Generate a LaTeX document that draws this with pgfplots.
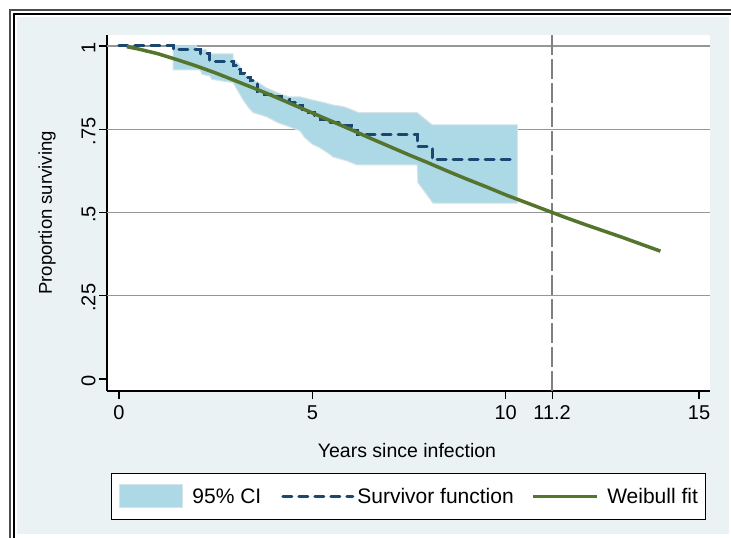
\documentclass[border=0pt]{standalone}
\usepackage{pgfplots}
\pgfplotsset{compat=1.18}
\usepackage{fontspec}
\setmainfont{Liberation Sans}
\definecolor{bgc}{RGB}{234,242,243}
\definecolor{ciblue}{RGB}{173,216,230}
\definecolor{ciedge}{RGB}{214,228,233}
\definecolor{navy}{RGB}{26,71,111}
\definecolor{fgreen}{RGB}{85,117,47}
\definecolor{gridc}{RGB}{150,150,150}
\definecolor{xlinec}{RGB}{128,128,128}
\newcommand\fs[1]{\fontsize{#1}{#1}\selectfont}
\begin{document}
\begin{tikzpicture}
\useasboundingbox (0,0) rectangle (731pt,-538pt);
\fill[white] (0,0) rectangle (731pt,-538pt);
\fill[bgc] (17pt,-17pt) rectangle (729pt,-534pt);
\draw[line width=2pt, gray!60!black] (10pt,-538pt) -- (10pt,-10pt) -- (731pt,-10pt);
\draw[line width=2pt, black] (14pt,-538pt) -- (14pt,-14pt) -- (731pt,-14pt);
\begin{axis}[
  at={(107pt,-391pt)}, anchor=south west,
  scale only axis, width=603pt, height=356pt,
  xmin=-0.31, xmax=15.283, ymin=-0.036, ymax=1.033,
  axis lines*=left,
  axis line style={-, line width=1.3pt, black},
  axis background/.style={fill=white},
  xtick={0,5,10,11.2,15}, xticklabels={0,5,10,11.2,15},
  ytick={0,0.25,0.5,0.75,1}, yticklabels={0,.25,.5,.75,1},
  tick align=outside, major tick length=8pt,
  tick style={line width=1.2pt, black},
  extra y ticks={0.25,0.5,0.75,1}, extra y tick labels={},
  extra y tick style={grid=major, major tick length=0pt},
  grid style={line width=1.3pt, gridc},
  /pgf/number format/assume math mode=true,
  tick label style={font=\fs{20}},
  yticklabel style={rotate=90, anchor=south, xshift=-2pt},
  xticklabel style={yshift=-3pt},
  xlabel={Years since infection},
  xlabel style={at={(axis description cs:0.4975,-0.1685)}, anchor=center, font=\fs{19.5}},
  ylabel={Proportion surviving},
  ylabel style={at={(axis description cs:-0.0995,0.5)}, anchor=center, font=\fs{18.5}},
  legend columns=3,
  legend style={at={(axis description cs:0.0066,-0.2303)}, anchor=north west,
    draw=black, line width=1pt, fill=white, inner xsep=8pt, inner ysep=11pt,
    font=\fs{21}, nodes={inner sep=0pt},
    /tikz/column 1/.style={column sep=9pt},
    /tikz/column 2/.style={column sep=20pt},
    /tikz/column 3/.style={column sep=3pt},
    /tikz/column 4/.style={column sep=17pt},
    /tikz/column 5/.style={column sep=9pt}},
  legend cell align=left,
]
\addplot[xlinec, line width=1.3pt, dash pattern=on 20pt off 4pt, forget plot]
  coordinates {(11.2,1.033) (11.2,-0.036)};
% 95% CI band: upper edge left to right, lower edge right to left
\addplot[fill=ciblue, draw=ciedge, line width=1pt,
  legend image code/.code={\draw[fill=ciblue, draw=ciedge, line width=1pt] (0pt,-11.5pt) rectangle (63pt,11.5pt);}]
  coordinates {
  (1.4,1.0)(2.0,1.0)(2.0,0.99)(2.25,0.99)(2.3,0.976)(2.95,0.976)(2.95,0.96)(3.1,0.945)
  (3.2,0.92)(3.4,0.90)(3.6,0.89)(3.8,0.875)(4.0,0.865)(4.2,0.855)(4.42,0.847)(4.7,0.847)
  (5.0,0.838)(5.3,0.83)(5.53,0.823)(5.8,0.818)(5.95,0.812)(6.2,0.80)(7.71,0.80)(8.1,0.763)
  (10.3,0.763)
  (10.3,0.528)(8.12,0.528)(7.73,0.59)(7.71,0.643)(6.15,0.643)(5.9,0.655)(5.53,0.667)
  (5.45,0.675)(5.2,0.694)(5.0,0.705)(4.8,0.725)(4.68,0.745)(4.42,0.757)(4.1,0.77)
  (3.83,0.787)(3.47,0.80)(3.35,0.815)(3.2,0.84)(3.05,0.87)(2.95,0.89)(2.4,0.90)
  (2.35,0.91)(2.15,0.915)(2.1,0.928)(1.4,0.928)
  } -- cycle;
\addlegendentry{95\% CI}
% Kaplan-Meier survivor function
\addplot[navy, line width=3pt, dash pattern=on 9pt off 7pt, line cap=round, const plot,
  legend image code/.code={\draw[navy, line width=3pt, dash pattern=on 9pt off 7pt, line cap=round] (0pt,0pt) -- (70pt,0pt);}]
  coordinates {
  (0,1)(1.4,0.988)(2.1,0.976)(2.35,0.953)(2.95,0.941)(3.05,0.929)(3.15,0.918)(3.25,0.906)
  (3.4,0.895)(3.57,0.862)(3.75,0.855)(3.98,0.847)(4.2,0.838)(4.42,0.83)(4.6,0.82)(4.75,0.81)
  (4.9,0.80)(5.05,0.79)(5.2,0.78)(5.38,0.769)(5.75,0.762)(6.0,0.755)(6.1,0.745)(6.18,0.733)
  (7.71,0.697)(8.1,0.658)(10.28,0.658)
  };
\addlegendentry{Survivor function}
% Weibull fit
\addplot[fgreen, line width=3.5pt,
  legend image code/.code={\draw[fgreen, line width=3.5pt] (0pt,0pt) -- (64pt,0pt);}]
  coordinates {
  (0.2,0.998)(0.5,0.991)(1,0.977)(1.5,0.959)(2,0.940)(2.5,0.919)(3,0.896)(3.5,0.873)
  (4,0.849)(4.5,0.824)(5,0.799)(5.5,0.774)(6,0.749)(6.5,0.723)(7,0.698)(7.5,0.673)
  (8,0.649)(8.5,0.624)(9,0.600)(9.5,0.577)(10,0.553)(10.5,0.531)(11,0.509)(11.5,0.487)
  (12,0.466)(12.5,0.446)(13,0.426)(13.5,0.405)(14,0.384)
  };
\addlegendentry{Weibull fit}
\end{axis}
\end{tikzpicture}
\end{document}
